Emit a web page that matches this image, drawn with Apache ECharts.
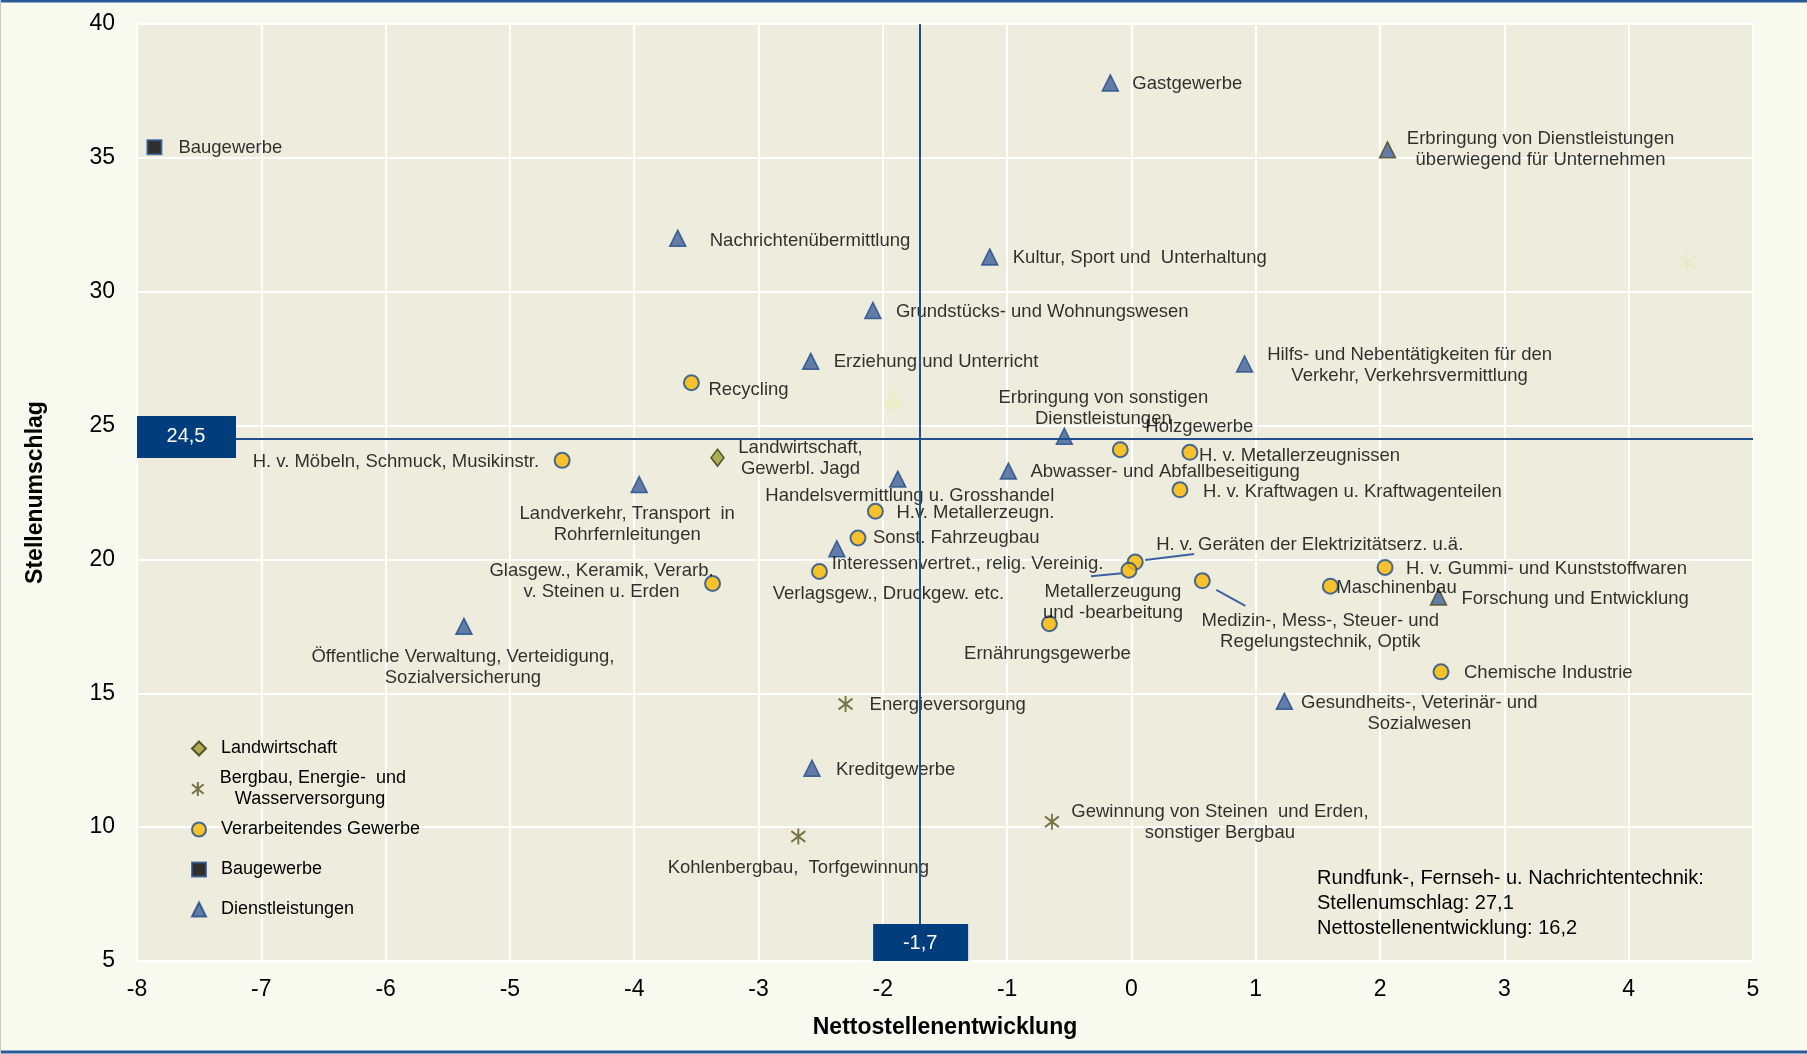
<!DOCTYPE html>
<html lang="de">
<head>
<meta charset="UTF-8">
<title>Stellenumschlag und Nettostellenentwicklung</title>
<script src="https://cdn.jsdelivr.net/npm/echarts@6/dist/echarts.min.js"></script>
<style>
    html, body { margin: 0; padding: 0; background: #f9faef; }
    #chart { width: 1807px; height: 1054px; }
</style>
</head>
<body>
<div id="chart"></div>
<script>
// Achsen
var xMin = -8, xMax = 5, xStep = 1;
var yMin = 5, yMax = 40, yStep = 5;

// Durchschnitt (Referenzlinien)
var avgX = -1.7;
var avgY = 24.5;

// Landwirtschaft
var lwNames = ['Landwirtschaft,\nGewerbl. Jagd'];
var lwX = [-3.33];
var lwY = [23.8];

// Bergbau, Energie- und Wasserversorgung
var bbNames = ['Energieversorgung', 'Kohlenbergbau,  Torfgewinnung', 'Gewinnung von Steinen  und Erden,\nsonstiger Bergbau'];
var bbX = [-2.30, -2.68, -0.64];
var bbY = [14.6, 9.65, 10.2];

// Verarbeitendes Gewerbe
var vgNames = [
    'Recycling',
    'H. v. Möbeln, Schmuck, Musikinstr.',
    'Holzgewerbe',
    'H. v. Metallerzeugnissen',
    'H. v. Kraftwagen u. Kraftwagenteilen',
    'H.v. Metallerzeugn.',
    'Sonst. Fahrzeugbau',
    'Verlagsgew., Druckgew. etc.',
    'Glasgew., Keramik, Verarb.\nv. Steinen u. Erden',
    'H. v. Geräten der Elektrizitätserz. u.ä.',
    'Metallerzeugung\nund -bearbeitung',
    'Medizin-, Mess-, Steuer- und\nRegelungstechnik, Optik',
    'Ernährungsgewerbe',
    'Maschinenbau',
    'H. v. Gummi- und Kunststoffwaren',
    'Chemische Industrie'
];
var vgX = [-3.54, -4.58, -0.09, 0.47, 0.39, -2.06, -2.20, -2.51, -3.37, 0.03, -0.02, 0.57, -0.66, 1.60, 2.04, 2.49];
var vgY = [26.6, 23.7, 24.1, 24.0, 22.6, 21.8, 20.8, 19.55, 19.1, 19.9, 19.6, 19.2, 17.6, 19.0, 19.7, 15.8];

// Baugewerbe
var bauNames = ['Baugewerbe'];
var bauX = [-7.86];
var bauY = [35.4];

// Dienstleistungen
var dlNames = [
    'Gastgewerbe',
    'Erbringung von Dienstleistungen\nüberwiegend für Unternehmen',
    'Nachrichtenübermittlung',
    'Kultur, Sport und  Unterhaltung',
    'Grundstücks- und Wohnungswesen',
    'Erziehung und Unterricht',
    'Hilfs- und Nebentätigkeiten für den\nVerkehr, Verkehrsvermittlung',
    'Erbringung von sonstigen\nDienstleistungen',
    'Landverkehr, Transport  in\nRohrfernleitungen',
    'Handelsvermittlung u. Grosshandel',
    'Abwasser- und Abfallbeseitigung',
    'Interessenvertret., relig. Vereinig.',
    'Öffentliche Verwaltung, Verteidigung,\nSozialversicherung',
    'Forschung und Entwicklung',
    'Gesundheits-, Veterinär- und\nSozialwesen',
    'Kreditgewerbe'
];
var dlX = [-0.17, 2.06, -3.65, -1.14, -2.08, -2.58, 0.91, -0.54, -3.96, -1.88, -0.99, -2.37, -5.37, 2.47, 1.23, -2.57];
var dlY = [37.8, 35.3, 32.0, 31.3, 29.3, 27.4, 27.3, 24.6, 22.8, 23.0, 23.3, 20.4, 17.5, 18.6, 14.7, 12.2];

// blasse Punkte
var ghostTriX = [-1.92], ghostTriY = [26.0];
var ghostStarX = [4.47], ghostStarY = [31.1];

// Label-Platzierung: [Ausrichtung, dx, dy] in px relativ zum Punkt
var lwPos = [['center', 83, 0]];
var bbPos = [['left', 24, 0], ['center', 0, 30], ['center', 168, 0]];
var vgPos = [
    ['left', 17, 6], ['right', -23, 1], ['left', 25, -24], ['left', 9, 3], ['left', 23, 1],
    ['left', 21, 1], ['left', 15, -1], ['center', 69, 21], ['center', -111, -3], ['left', 21, -18],
    ['center', -16, 31], ['center', 118, 50], ['center', -2, 29], ['left', 6, 1], ['left', 21, 0],
    ['left', 23, 0]
];
var bauPos = [['left', 24, 0]];
var dlPos = [
    ['left', 22, 0], ['center', 153, -1], ['left', 32, 2], ['left', 23, 0], ['left', 23, 0],
    ['left', 23, 0], ['center', 165, 0], ['center', 39, -29], ['center', -12, 39], ['center', 12, 16],
    ['left', 22, 0], ['left', -5, 14], ['center', -1, 40], ['left', 23, 1], ['center', 135, 11],
    ['left', 24, 1]
];
var dlOlive = [1, 13];
// Hinweislinien: [index in vg, x1, y1, x2, y2]
var leaders = [[9, 10, -2, 59, -8], [10, -7, 3, -38, 6], [11, 14, 9, 43, 25]];

var FONT = '"Liberation Sans", Arial, sans-serif';
var TXT = '#000000';
var starPath = 'path://M5,0L5,12M0,2L10,10M10,2L0,10';

function lab(p) {
    return {
        show: true, formatter: '{b}', position: 'inside', align: p[0], verticalAlign: 'middle',
        offset: [p[1], p[2] + 1], color: TXT, fontSize: 18.5, lineHeight: 21,
        fontFamily: FONT, textBorderWidth: 0
    };
}
function punkte(names, xs, ys, pos) {
    return xs.map(function (x, i) {
        return {
            name: names ? names[i] : '',
            value: [x, ys[i]],
            label: pos ? lab(pos[i]) : { show: false }
        };
    });
}

var dlData = punkte(dlNames, dlX, dlY, dlPos);
dlOlive.forEach(function (i) {
    dlData[i].itemStyle = { borderColor: '#4a4a14' };
});

var chart = echarts.init(document.getElementById('chart'));

function legende(name, top) {
    return {
        data: [name], orient: 'vertical', left: 186, top: top,
        itemWidth: 14, itemHeight: 14,
        formatter: function (n) {
            return n === 'Bergbau' ? 'Bergbau, Energie-  und\n   Wasserversorgung' : n;
        },
        textStyle: { fontSize: 18, lineHeight: 21, color: TXT, fontFamily: FONT, padding: [0, 0, 0, 10] },
        selectedMode: false
    };
}

var option = {
    backgroundColor: '#f9faef',
    animation: false,
    textStyle: { fontFamily: FONT },
    grid: {
        left: 137, right: 54, top: 24, bottom: 93,
        show: true, backgroundColor: '#eeecdd', borderWidth: 0
    },
    legend: [
        legende('Landwirtschaft', 733),
        legende('Bergbau', 763),
        legende('Verarbeitendes Gewerbe', 814),
        legende('Baugewerbe', 854),
        legende('Dienstleistungen', 894)
    ],
    xAxis: {
        type: 'value', min: xMin, max: xMax, interval: xStep,
        axisLine: { show: false }, axisTick: { show: false },
        splitLine: { lineStyle: { color: '#ffffff', width: 2 } },
        axisLabel: { fontSize: 23, color: TXT, margin: 17, fontFamily: FONT },
        name: 'Nettostellenentwicklung', nameLocation: 'middle', nameGap: 55,
        nameTextStyle: { fontSize: 23, fontWeight: 'bold', color: TXT, fontFamily: FONT }
    },
    yAxis: {
        type: 'value', min: yMin, max: yMax, interval: yStep,
        axisLine: { show: false }, axisTick: { show: false },
        splitLine: { lineStyle: { color: '#ffffff', width: 2 } },
        axisLabel: { fontSize: 23, color: TXT, margin: 22, fontFamily: FONT },
        name: 'Stellenumschlag', nameLocation: 'middle', nameGap: 90,
        nameTextStyle: { fontSize: 23, fontWeight: 'bold', color: TXT, fontFamily: FONT }
    },
    series: [
        {
            name: 'Referenz', type: 'scatter', data: [], z: 1, silent: true,
            markLine: {
                silent: true, symbol: 'none', label: { show: false },
                lineStyle: { color: '#1f4f8f', width: 2, type: 'solid' },
                data: [{ xAxis: avgX }, { yAxis: avgY }]
            }
        },
        {
            name: 'ghostTri', type: 'scatter', symbol: 'triangle', symbolSize: 18,
            itemStyle: { color: '#eef0c6', borderColor: '#e8ebc0', borderWidth: 1 },
            data: punkte(null, ghostTriX, ghostTriY, null)
        },
        {
            name: 'ghostStar', type: 'scatter', symbol: starPath, symbolSize: [18, 20],
            itemStyle: { color: 'rgba(0,0,0,0)', borderColor: '#e3e8c0', borderWidth: 2 },
            data: punkte(null, ghostStarX, ghostStarY, null)
        },
        {
            name: 'Landwirtschaft', type: 'scatter', symbol: 'diamond', symbolSize: [13, 17],
            itemStyle: { color: '#9c9e30', borderColor: '#34340f', borderWidth: 1.5 },
            data: punkte(lwNames, lwX, lwY, lwPos)
        },
        {
            name: 'Bergbau', type: 'scatter', symbol: starPath, symbolSize: [14, 16],
            itemStyle: { color: 'rgba(0,0,0,0)', borderColor: '#55551f', borderWidth: 2 },
            data: punkte(bbNames, bbX, bbY, bbPos)
        },
        {
            name: 'Verarbeitendes Gewerbe', type: 'scatter', symbol: 'circle', symbolSize: 15,
            itemStyle: { color: '#f7b600', borderColor: '#1b4c8c', borderWidth: 2 },
            data: punkte(vgNames, vgX, vgY, vgPos)
        },
        {
            name: 'Baugewerbe', type: 'scatter', symbol: 'rect', symbolSize: 14,
            itemStyle: { color: '#000000', borderColor: '#2b5592', borderWidth: 2 },
            data: punkte(bauNames, bauX, bauY, bauPos)
        },
        {
            name: 'Dienstleistungen', type: 'scatter', symbol: 'triangle', symbolSize: 16,
            itemStyle: { color: '#3f609a', borderColor: '#1d4a88', borderWidth: 1.5 },
            data: dlData
        }
    ]
};

chart.setOption(option);

// Kästchen, Hinweislinien, Anmerkung
function fmt(v) { return String(v).replace('.', ','); }
var pY = chart.convertToPixel({ gridIndex: 0 }, [xMin, avgY]);
var pX = chart.convertToPixel({ gridIndex: 0 }, [avgX, yMin]);
var graphics = [
    { type: 'rect', z: 10, shape: { x: pY[0], y: pY[1] - 23, width: 99, height: 42 }, style: { fill: '#003d7c' } },
    { type: 'text', z: 11, x: pY[0] + 49, y: pY[1] - 2, style: { text: fmt(avgY), fill: '#fff', fontSize: 20, fontFamily: FONT, align: 'center', verticalAlign: 'middle' } },
    { type: 'rect', z: 10, shape: { x: pX[0] - 47, y: pX[1] - 37, width: 95, height: 37 }, style: { fill: '#003d7c' } },
    { type: 'text', z: 11, x: pX[0], y: pX[1] - 18, style: { text: fmt(avgX), fill: '#fff', fontSize: 20, fontFamily: FONT, align: 'center', verticalAlign: 'middle' } },
    { type: 'text', z: 11, x: 1317, y: 866, style: {
        text: 'Rundfunk-, Fernseh- u. Nachrichtentechnik:\nStellenumschlag: 27,1\nNettostellenentwicklung: 16,2',
        fill: TXT, fontSize: 20, lineHeight: 25, fontFamily: FONT, align: 'left', verticalAlign: 'top' } },
    { type: 'line', z: 12, shape: { x1: 0, y1: 1, x2: 1807, y2: 1 }, style: { stroke: '#2a5a97', lineWidth: 3 } },
    { type: 'line', z: 12, shape: { x1: 0, y1: 1052, x2: 1807, y2: 1052 }, style: { stroke: '#2a5a97', lineWidth: 3 } },
    { type: 'line', z: 12, shape: { x1: 0.5, y1: 0, x2: 0.5, y2: 1054 }, style: { stroke: '#c8c8c0', lineWidth: 1 } }
];
leaders.forEach(function (l) {
    var p = chart.convertToPixel({ gridIndex: 0 }, [vgX[l[0]], vgY[l[0]]]);
    graphics.push({
        type: 'line', z: 5,
        shape: { x1: p[0] + l[1], y1: p[1] + l[2], x2: p[0] + l[3], y2: p[1] + l[4] },
        style: { stroke: '#3b62a0', lineWidth: 2 }
    });
});
chart.setOption({ graphic: graphics });
</script>
</body>
</html>
